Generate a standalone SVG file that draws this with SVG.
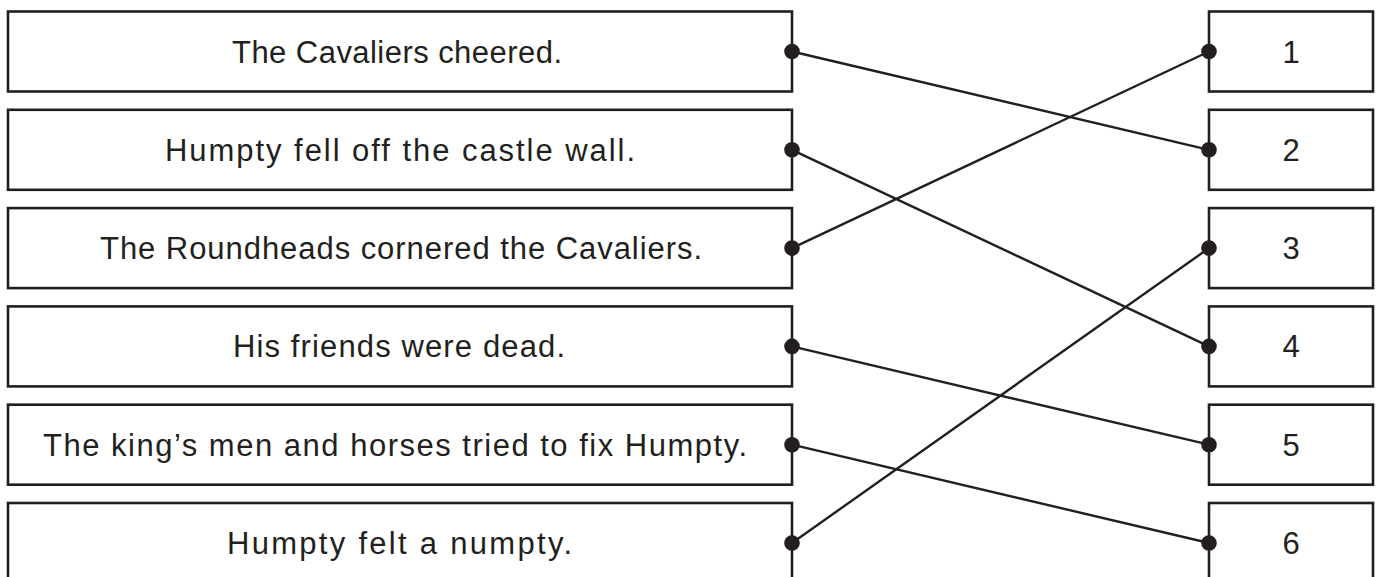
<svg xmlns="http://www.w3.org/2000/svg" width="1381" height="577" viewBox="0 0 1381 577">
<style>
.box{fill:#fff;stroke:#231f20;stroke-width:2.6}
.t{font-family:"Liberation Sans","DejaVu Sans",sans-serif;font-size:31px;fill:#231f20}
.n{font-family:"Liberation Sans","DejaVu Sans",sans-serif;font-size:31px;fill:#231f20;text-anchor:middle}
.c{stroke:#231f20;stroke-width:2.4;fill:none}
.d{fill:#231f20}
</style>
<rect width="1381" height="577" fill="#fff"/>
<g id="s1"><rect class="box" x="8" y="11.5" width="784" height="80"/><text class="t" x="232" y="62.5" textLength="330" lengthAdjust="spacing">The Cavaliers cheered.</text></g>
<g id="s2"><rect class="box" x="8" y="109.8" width="784" height="80"/><text class="t" x="165" y="160.8" textLength="470" lengthAdjust="spacing">Humpty fell off the castle wall.</text></g>
<g id="s3"><rect class="box" x="8" y="208.1" width="784" height="80"/><text class="t" x="100" y="259.1" textLength="602" lengthAdjust="spacing">The Roundheads cornered the Cavaliers.</text></g>
<g id="s4"><rect class="box" x="8" y="306.4" width="784" height="80"/><text class="t" x="233" y="357.4" textLength="332" lengthAdjust="spacing">His friends were dead.</text></g>
<g id="s5"><rect class="box" x="8" y="404.7" width="784" height="80"/><text class="t" x="43" y="455.7" textLength="704" lengthAdjust="spacing">The king’s men and horses tried to fix Humpty.</text></g>
<g id="s6"><rect class="box" x="8" y="503" width="784" height="80"/><text class="t" x="227" y="554" textLength="345" lengthAdjust="spacing">Humpty felt a numpty.</text></g>
<g id="n1"><rect class="box" x="1209" y="11.5" width="164" height="80"/><text class="n" x="1291" y="62.5">1</text></g>
<g id="n2"><rect class="box" x="1209" y="109.8" width="164" height="80"/><text class="n" x="1291" y="160.8">2</text></g>
<g id="n3"><rect class="box" x="1209" y="208.1" width="164" height="80"/><text class="n" x="1291" y="259.1">3</text></g>
<g id="n4"><rect class="box" x="1209" y="306.4" width="164" height="80"/><text class="n" x="1291" y="357.4">4</text></g>
<g id="n5"><rect class="box" x="1209" y="404.7" width="164" height="80"/><text class="n" x="1291" y="455.7">5</text></g>
<g id="n6"><rect class="box" x="1209" y="503" width="164" height="80"/><text class="n" x="1291" y="554">6</text></g>
<g id="connectors">
<line class="c" x1="792" y1="51.5" x2="1209" y2="149.8"/>
<line class="c" x1="792" y1="149.8" x2="1209" y2="346.4"/>
<line class="c" x1="792" y1="248.1" x2="1209" y2="51.5"/>
<line class="c" x1="792" y1="346.4" x2="1209" y2="444.7"/>
<line class="c" x1="792" y1="444.7" x2="1209" y2="543"/>
<line class="c" x1="792" y1="543" x2="1209" y2="248.1"/>
<circle class="d" cx="792" cy="51.5" r="7.8"/>
<circle class="d" cx="792" cy="149.8" r="7.8"/>
<circle class="d" cx="792" cy="248.1" r="7.8"/>
<circle class="d" cx="792" cy="346.4" r="7.8"/>
<circle class="d" cx="792" cy="444.7" r="7.8"/>
<circle class="d" cx="792" cy="543" r="7.8"/>
<circle class="d" cx="1209" cy="51.5" r="7.8"/>
<circle class="d" cx="1209" cy="149.8" r="7.8"/>
<circle class="d" cx="1209" cy="248.1" r="7.8"/>
<circle class="d" cx="1209" cy="346.4" r="7.8"/>
<circle class="d" cx="1209" cy="444.7" r="7.8"/>
<circle class="d" cx="1209" cy="543" r="7.8"/>
</g>
</svg>
